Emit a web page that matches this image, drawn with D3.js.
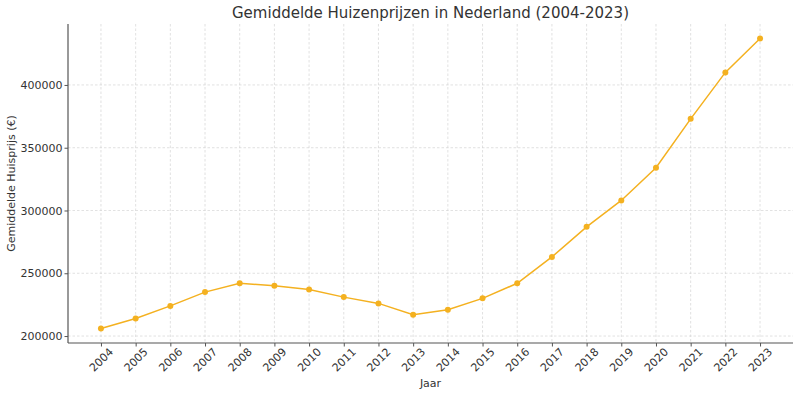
<!DOCTYPE html>
<html>
<head>
<meta charset="utf-8">
<script src="https://cdn.jsdelivr.net/npm/d3@7"></script>
<style>
body{margin:0;background:#fff;}
svg{display:block;font-family:"DejaVu Sans",sans-serif;}
</style>
</head>
<body>
<svg id="chart" width="800" height="397"></svg>
<script>
const years = [2004,2005,2006,2007,2008,2009,2010,2011,2012,2013,2014,2015,2016,2017,2018,2019,2020,2021,2022,2023];
const prices = [206000,214000,224000,235000,242000,240000,237000,231000,226000,217000,221000,230000,242000,263000,287000,308000,334000,373000,410000,437000];
const yTicks = [200000,250000,300000,350000,400000];
const title = "Gemiddelde Huizenprijzen in Nederland (2004-2023)";
const xLabel = "Jaar";
const yLabel = "Gemiddelde Huisprijs (€)";

const svg = d3.select("#chart");
const L = 68, R = 793, T = 24, B = 343;
const color = "#f4b120";
const textColor = "#333";

const xMin = d3.min(years), xMax = d3.max(years);
const xPad = (xMax - xMin) * 0.05;
const x = d3.scaleLinear().domain([xMin - xPad, xMax + xPad]).range([L, R]);
const yMin = d3.min(prices), yMax = d3.max(prices);
const yPad = (yMax - yMin) * 0.05;
const y = d3.scaleLinear().domain([yMin - yPad, yMax + yPad]).range([B, T]);

// grid
const grid = svg.append("g");
grid.selectAll(".vg").data(years).enter().append("line")
  .attr("x1", d => x(d)).attr("x2", d => x(d)).attr("y1", T).attr("y2", B)
  .attr("stroke", "#d4d4d4").attr("stroke-width", 0.7).attr("stroke-dasharray", "2.5,2");
grid.selectAll(".hg").data(yTicks).enter().append("line")
  .attr("x1", L).attr("x2", R).attr("y1", d => y(d)).attr("y2", d => y(d))
  .attr("stroke", "#d4d4d4").attr("stroke-width", 0.7).attr("stroke-dasharray", "2.5,2");

// axes
const xAxis = svg.append("g").attr("transform", `translate(0,${B})`)
  .call(d3.axisBottom(x).tickValues(years).tickFormat(d3.format("d")).tickSize(3.5).tickSizeOuter(0));
xAxis.attr("font-family", null).attr("font-size", null);
xAxis.select(".domain").attr("stroke", "#555").attr("stroke-width", 1.2).attr("d", `M${L},0H${R}`);
xAxis.selectAll(".tick line").attr("stroke", "#555");
xAxis.selectAll(".tick text")
  .attr("fill", textColor).style("font-size", "11px")
  .attr("text-anchor", "middle").attr("dy", null).attr("y", 0)
  .attr("transform", "translate(0,17) rotate(-45)")
  .attr("dominant-baseline", "central");

const yAxis = svg.append("g").attr("transform", `translate(${L},0)`)
  .call(d3.axisLeft(y).tickValues(yTicks).tickFormat(d3.format("d")).tickSize(3.5).tickSizeOuter(0));
yAxis.attr("font-family", null).attr("font-size", null);
yAxis.select(".domain").attr("stroke", "#555").attr("stroke-width", 1.2).attr("d", `M0,${T}V${B}`);
yAxis.selectAll(".tick line").attr("stroke", "#555");
yAxis.selectAll(".tick text").attr("fill", textColor).style("font-size", "11px").attr("x", -5.5);

// line
const line = d3.line().x((d, i) => x(years[i])).y(d => y(d));
svg.append("path").datum(prices).attr("d", line)
  .attr("fill", "none").attr("stroke", color).attr("stroke-width", 1.5);
svg.selectAll(".pt").data(prices).enter().append("circle")
  .attr("cx", (d, i) => x(years[i])).attr("cy", d => y(d)).attr("r", 3)
  .attr("fill", color);

// labels
svg.append("text").attr("x", (L + R) / 2).attr("y", 18).attr("text-anchor", "middle")
  .attr("font-size", "15px").attr("fill", textColor).text(title);
svg.append("text").attr("x", (L + R) / 2).attr("y", 387).attr("text-anchor", "middle")
  .attr("font-size", "11px").attr("fill", textColor).text(xLabel);
svg.append("text").attr("transform", `translate(15,${(T + B) / 2}) rotate(-90)`)
  .attr("text-anchor", "middle").attr("font-size", "11px").attr("fill", textColor).text(yLabel);
</script>
</body>
</html>
